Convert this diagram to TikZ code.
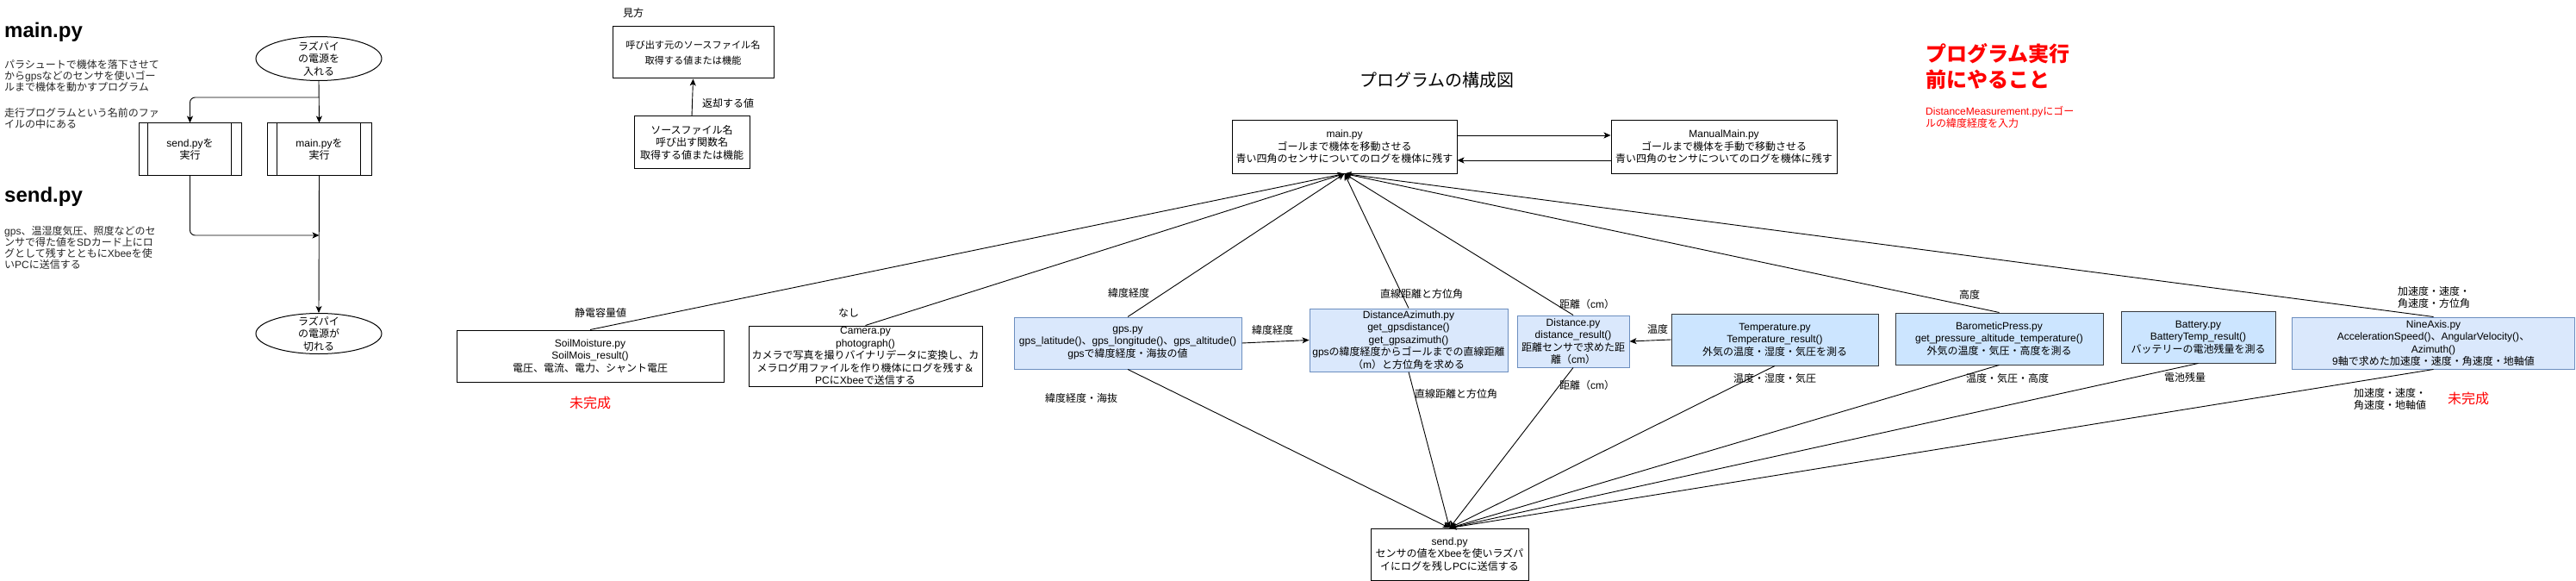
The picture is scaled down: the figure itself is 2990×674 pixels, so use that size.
\documentclass[tikz,border=0pt]{standalone}
\usepackage{fontspec}
\setmainfont{Liberation Sans}
\newfontfamily\jpfont{Noto Sans CJK JP}
\XeTeXinterchartokenstate=1
\newXeTeXintercharclass\jpclass
\makeatletter
\def\setjprange#1#2{\count@=#1\relax\loop\XeTeXcharclass\count@=\jpclass\ifnum\count@<#2\relax\advance\count@\@ne\repeat}
\makeatother
\setjprange{"3000}{"30FF}
\setjprange{"4E00}{"9FFF}
\setjprange{"FF00}{"FFEF}
\XeTeXinterchartoks 0 \jpclass = {\jpfont}
\XeTeXinterchartoks 4095 \jpclass = {\jpfont}
\XeTeXinterchartoks \jpclass 0 = {\rmfamily}
\XeTeXinterchartoks \jpclass 4095 = {\rmfamily}
\usetikzlibrary{arrows.meta,shapes.geometric}
\definecolor{bluefill}{HTML}{DAE8FC}
\definecolor{blueline}{HTML}{6C8EBF}
\definecolor{lbfill}{HTML}{CCE5FF}
\definecolor{darkline}{HTML}{36393D}
\definecolor{redtxt}{HTML}{FF0000}
\begin{document}
\begin{tikzpicture}[x=1pt,y=-1pt,
  base/.style={font=\fontsize{12}{14.5}\selectfont, align=center, inner sep=0pt, text=black},
  wbox/.style={base, draw=black, fill=white, line width=1pt},
  bbox/.style={base, draw=blueline, fill=bluefill, line width=1pt},
  cbox/.style={base, draw=darkline, fill=lbfill, line width=1pt},
  lbl/.style={base},
  para/.style={font=\fontsize{12}{13}\selectfont, align=left, inner sep=0pt, text=black!85},
  hd/.style={font=\fontsize{24}{28}\selectfont\bfseries, inner sep=0pt},
  ell/.style={ellipse, draw=black, fill=white, line width=1pt, inner sep=0pt},
  conn/.style={line width=0.9pt, draw=black, -{Stealth[length=8pt,width=7pt,inset=2pt]}},
  redn/.style={base, text=redtxt, font=\fontsize{16}{18}\selectfont}
]
\useasboundingbox (0,0) rectangle (2990,674);
\fill[white] (0,0) rectangle (2990,674);

% ---- left column
\node[hd, anchor=base west] (hmain) at (5,44) {main.py};
\node[para, anchor=west] (pmain1) at (5,87.5) {パラシュートで機体を落下させて\\からgpsなどのセンサを使いゴー\\ルまで機体を動かすプログラム};
\node[para, anchor=west] (pmain2) at (5,137) {走行プログラムという名前のファ\\イルの中にある};
\node[hd, anchor=base west] (hsend) at (5,234) {send.py};
\node[para, anchor=west] (psend) at (5,287) {gps、温湿度気圧、照度などのセ\\ンサで得た値をSDカード上にロ\\グとして残すとともにXbeeを使\\いPCに送信する};

% ---- flowchart
\node[ell, minimum width=146pt, minimum height=51pt] (pwron) at (370,68) {};
\node[base] (pwronT) at (pwron.center) {ラズパイ\\の電源を\\入れる};
\node[wbox, minimum width=121pt, minimum height=60pt] (mainrun) at (370.5,173) {main.pyを\\実行};
\draw[line width=1pt] ([xshift=12pt]mainrun.north west) -- ([xshift=12pt]mainrun.south west);
\draw[line width=1pt] ([xshift=-13pt]mainrun.north east) -- ([xshift=-13pt]mainrun.south east);
\node[wbox, minimum width=119pt, minimum height=60pt] (sendrun) at (220.5,173) {send.pyを\\実行};
\draw[line width=1pt] ([xshift=11pt]sendrun.north west) -- ([xshift=11pt]sendrun.south west);
\draw[line width=1pt] ([xshift=-12pt]sendrun.north east) -- ([xshift=-12pt]sendrun.south east);
\node[ell, minimum width=146pt, minimum height=47pt] (pwroff) at (370,387) {};
\node[base] (pwroffT) at (pwroff.center) {ラズパイ\\の電源が\\切れる};
\coordinate (fork) at (370.5,113);
\coordinate (join) at (370.5,273);
\draw[conn] (pwron.south) -- (mainrun.north);
\draw[conn, rounded corners=6pt] (fork) -| (sendrun.north);
\draw[conn, rounded corners=6pt] (sendrun.south) |- (join);
\draw[conn] (mainrun.south) -- (pwroff.north);

% ---- legend
\node[lbl] (mikata) at (735,15) {見方};
\node[wbox, minimum width=187pt, minimum height=60pt, font=\fontsize{11.2}{18}\selectfont] (legTop) at (804.5,61) {呼び出す元のソースファイル名\\取得する値または機能};
\node[wbox, minimum width=134pt, minimum height=60pt] (legBot) at (803,165) {ソースファイル名\\呼び出す関数名\\取得する値または機能};
\draw[conn] (legBot.north) -- (legTop.south);
\node[lbl] (lret) at (845,120) {返却する値};

% ---- main structure
\node[lbl, font=\fontsize{20}{24}\selectfont] (title) at (1668,93) {プログラムの構成図};
\node[wbox, minimum width=261pt, minimum height=61pt] (main) at (1560.5,170.5) {main.py\\ゴールまで機体を移動させる\\青い四角のセンサについてのログを機体に残す};
\node[wbox, minimum width=262pt, minimum height=61pt] (manual) at (2001,170.5) {ManualMain.py\\ゴールまで機体を手動で移動させる\\青い四角のセンサについてのログを機体に残す};
\draw[conn] ([yshift=13.5pt]main.east) -- ([yshift=13.5pt]manual.west);
\draw[conn] ([yshift=-15.5pt]manual.west) -- ([yshift=-15.5pt]main.east);

\node[wbox, minimum width=310pt, minimum height=60pt] (soil) at (685,413) {SoilMoisture.py\\SoilMois\_result()\\電圧、電流、電力、シャント電圧};
\node[wbox, minimum width=271pt, minimum height=70pt] (camera) at (1004.5,413) {Camera.py\\photograph()\\カメラで写真を撮りバイナリデータに変換し、カ\\メラログ用ファイルを作り機体にログを残す＆\\PCにXbeeで送信する};
\node[bbox, minimum width=264pt, minimum height=60pt] (gps) at (1309,398) {gps.py\\gps\_latitude()、gps\_longitude()、gps\_altitude()\\gpsで緯度経度・海抜の値};
\node[bbox, minimum width=230pt, minimum height=73pt] (da) at (1635,394.5) {DistanceAzimuth.py\\get\_gpsdistance()\\get\_gpsazimuth()\\gpsの緯度経度からゴールまでの直線距離\\（m）と方位角を求める};
\node[bbox, minimum width=130pt, minimum height=60pt] (dist) at (1826,396) {Distance.py\\distance\_result()\\距離センサで求めた距\\離（cm）};
\node[cbox, minimum width=240pt, minimum height=60pt] (temp) at (2060,394) {Temperature.py\\Temperature\_result()\\外気の温度・湿度・気圧を測る};
\node[cbox, minimum width=241pt, minimum height=60pt] (baro) at (2320.5,393) {BarometicPress.py\\get\_pressure\_altitude\_temperature()\\外気の温度・気圧・高度を測る};
\node[cbox, minimum width=179pt, minimum height=60pt] (batt) at (2551.5,391) {Battery.py\\BatteryTemp\_result()\\バッテリーの電池残量を測る};
\node[bbox, minimum width=328pt, minimum height=60pt] (nine) at (2824.5,398) {NineAxis.py\\AccelerationSpeed()、AngularVelocity()、\\Azimuth()\\9軸で求めた加速度・速度・角速度・地軸値};
\node[wbox, minimum width=183pt, minimum height=60pt] (send) at (1682.5,643) {send.py\\センサの値をXbeeを使いラズパ\\イにログを残しPCに送信する};

\foreach \n in {soil,camera,gps,da,dist,baro,nine} \draw[conn] (\n.north) -- (main.south);
\foreach \n in {gps,da,dist,temp,baro,batt,nine} \draw[conn] (\n.south) -- (send.north);
\draw[conn] (gps.east) -- (da.west);
\draw[conn] (temp.west) -- (dist.east);

% ---- connector labels
\node[lbl] (l1) at (697,363) {静電容量値};
\node[lbl] (l2) at (985,363) {なし};
\node[lbl] (l3) at (1310,340) {緯度経度};
\node[lbl] (l4) at (1477,383) {緯度経度};
\node[lbl] (l5) at (1255,462) {緯度経度・海抜};
\node[lbl] (l6) at (1650,341) {直線距離と方位角};
\node[lbl] (l7) at (1690,457) {直線距離と方位角};
\node[lbl] (l8) at (1842,353) {距離（cm）};
\node[lbl] (l9) at (1842,447) {距離（cm）};
\node[lbl] (l10) at (1924,382) {温度};
\node[lbl] (l11) at (2060,439) {温度・湿度・気圧};
\node[lbl] (l12) at (2286,342) {高度};
\node[lbl] (l13) at (2330,439) {温度・気圧・高度};
\node[lbl] (l14) at (2536,438) {電池残量};
\node[lbl] (l15) at (2825,345) {加速度・速度・\\角速度・方位角};
\node[lbl] (l16) at (2774,463) {加速度・速度・\\角速度・地軸値};
\node[redn] (nf1) at (685,467) {未完成};
\node[redn] (nf2) at (2865,462) {未完成};

% ---- notes
\node[base, anchor=west, align=left, text=redtxt, font=\fontsize{24}{30}\selectfont\bfseries] (todo) at (2235,77) {プログラム実行\\前にやること};
\node[base, anchor=west, align=left, text=redtxt, font=\fontsize{12}{14}\selectfont] (todo2) at (2235,136) {DistanceMeasurement.pyにゴー\\ルの緯度経度を入力};
\end{tikzpicture}
\end{document}
